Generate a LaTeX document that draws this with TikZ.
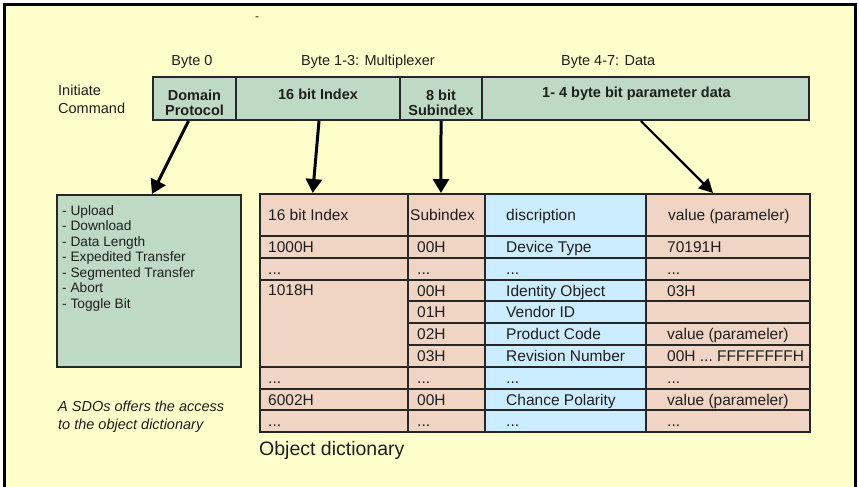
\documentclass[tikz,border=0pt]{standalone}
\usepackage{fontspec}
\setmainfont{Liberation Sans}
\usetikzlibrary{arrows.meta,calc}
\definecolor{bgy}{HTML}{FFFFCC}
\definecolor{grn}{HTML}{BEDAC4}
\definecolor{pnk}{HTML}{F0D4C4}
\definecolor{blu}{HTML}{CCECFF}
\definecolor{dk}{HTML}{262626}
\definecolor{txt}{HTML}{1E1E1E}
\newcommand{\dts}{...}
\tikzset{
  box/.style={draw=dk, line width=2pt, inner sep=0pt, anchor=north west},
  bartxt/.style={font=\bfseries\fontsize{14.5}{15}\selectfont, text=txt, align=center, inner sep=0pt},
  lbl/.style={font=\fontsize{14.5}{17}\selectfont, text=txt, inner sep=0pt, anchor=base west},
  ttxt/.style={font=\fontsize{15.5}{18}\selectfont, text=txt, inner sep=0pt, anchor=base west},
  bigarrow/.style={line width=3pt, draw=black, -{Triangle[length=14pt,width=16pt]}},
  midarrow/.style={line width=2.2pt, draw=black, -{Triangle[length=14pt,width=14pt]}}
}
\newcommand{\tcell}[8]{%
  \node[box, fill=#6, minimum width=#4, minimum height=#5] (#1) at (#2,#3) {};
  \node[ttxt] (#1t) at ($(#1.west)+(#7,5.5)$) {#8};
}
\begin{document}
\begin{tikzpicture}[x=1pt,y=-1pt]
\useasboundingbox (0,0) rectangle (859,487);
\fill[white] (0,0) rectangle (859,487);
\fill[bgy] (4.5,4.5) rectangle (855,492);
\draw[line width=3pt, black] (4.5,495) -- (4.5,4.5) -- (855,4.5) -- (855,495);

% small dash at top
\node[inner sep=0pt, font=\fontsize{12}{14}\selectfont, text=txt] (dash) at (257,19) {-};

% labels above bar
\node[lbl, anchor=base] (b0) at (192,65.2) {Byte 0};
\node[lbl] (b13) at (301,65.2) {Byte 1-3: Multiplexer};
\node[lbl] (b47) at (561,65.2) {Byte 4-7: Data};
\node[lbl] (ini) at (58,95.2) {Initiate};
\node[lbl] (cmd) at (58,113.5) {Command};

% command bar
\node[box, fill=grn, minimum width=83, minimum height=43] (dp) at (152,76) {};
\node[box, fill=grn, minimum width=164, minimum height=43] (idx) at (235,76) {};
\node[box, fill=grn, minimum width=82, minimum height=43] (sub) at (399,76) {};
\node[box, fill=grn, minimum width=327, minimum height=43] (data) at (481,76) {};
\node[bartxt] (dpt) at ($(dp.center)+(0,4)$) {Domain\\Protocol};
\node[bartxt] (idxt) at ($(idx.center)+(0,-4.5)$) {16 bit Index};
\node[bartxt] (subt) at ($(sub.center)+(0,4)$) {8 bit\\Subindex};
\node[bartxt] (datat) at ($(data.center)+(-9,-4.5)$) {1- 4 byte bit parameter data};

% left box
\node[box, fill=grn, minimum width=184, minimum height=172] (lb) at (56,194) {};
\node[inner sep=0pt, anchor=north west, align=left, text=txt,
      font=\fontsize{13.7}{15.5}\selectfont] (lbt) at ($(lb.north west)+(6,11.3)$)
  {- Upload\\- Download\\- Data Length\\- Expedited Transfer\\- Segmented Transfer\\- Abort\\- Toggle Bit};

% italic note
\node[lbl, font=\itshape\fontsize{14.5}{17}\selectfont] (n1) at (58,411) {A SDOs offers the access};
\node[lbl, font=\itshape\fontsize{14.5}{17}\selectfont] (n2) at (58,429) {to the object dictionary};

% object dictionary table
\tcell{h1}{259}{193}{148}{42}{pnk}{9}{16 bit Index}
\tcell{h2}{407}{193}{77}{42}{pnk}{3}{Subindex}
\tcell{h3}{484}{193}{161}{42}{blu}{22}{discription}
\tcell{h4}{645}{193}{164}{42}{pnk}{23}{value (parameler)}

\tcell{a1}{259}{235}{148}{21.8}{pnk}{9}{1000H}
\tcell{a2}{259}{256.8}{148}{21.8}{pnk}{9}{\dts}
\node[box, fill=pnk, minimum width=148, minimum height=87.2] (a3) at (259,278.6) {};
\node[ttxt] (a3t) at ($(a3.north west)+(9,16.4)$) {1018H};
\tcell{a7}{259}{365.8}{148}{21.8}{pnk}{9}{\dts}
\tcell{a8}{259}{387.6}{148}{21.8}{pnk}{9}{6002H}
\tcell{a9}{259}{409.4}{148}{21.8}{pnk}{9}{\dts}

\foreach \i/\b/\c/\d in {1/00H/{Device Type}/70191H,
                          2/{\dts}/{\dts}/{\dts},
                          3/00H/{Identity Object}/03H,
                          4/01H/{Vendor ID}/{},
                          5/02H/{Product Code}/{value (parameler)},
                          6/03H/{Revision Number}/{00H \dts\ FFFFFFFFH},
                          7/{\dts}/{\dts}/{\dts},
                          8/00H/{Chance Polarity}/{value (parameler)},
                          9/{\dts}/{\dts}/{\dts}}{
  \pgfmathsetmacro\yy{235+(\i-1)*21.8}
  \tcell{b\i}{407}{\yy}{77}{21.8}{pnk}{10}{\b}
  \tcell{c\i}{484}{\yy}{161}{21.8}{blu}{22}{\c}
  \tcell{d\i}{645}{\yy}{164}{21.8}{pnk}{22}{\d}
}

\node[inner sep=0pt, anchor=base west, text=txt, font=\fontsize{19.5}{22}\selectfont] (od) at (259,455) {Object dictionary};

% arrows
\draw[bigarrow] ($(dp.south west)!0.43!(dp.south east)$) -- ($(lb.north west)!0.516!(lb.north east)$);
\draw[bigarrow] ($(idx.south west)!0.506!(idx.south east)$) -- ($(h1.north west)!0.358!(h1.north east)$);
\draw[bigarrow] ($(sub.south west)!0.5!(sub.south east)$) -- ($(h2.north west)!0.43!(h2.north east)$);
\draw[midarrow] ($(data.south west)!0.486!(data.south east)$) -- ($(h4.north west)!0.41!(h4.north east)$);
\end{tikzpicture}
\end{document}
